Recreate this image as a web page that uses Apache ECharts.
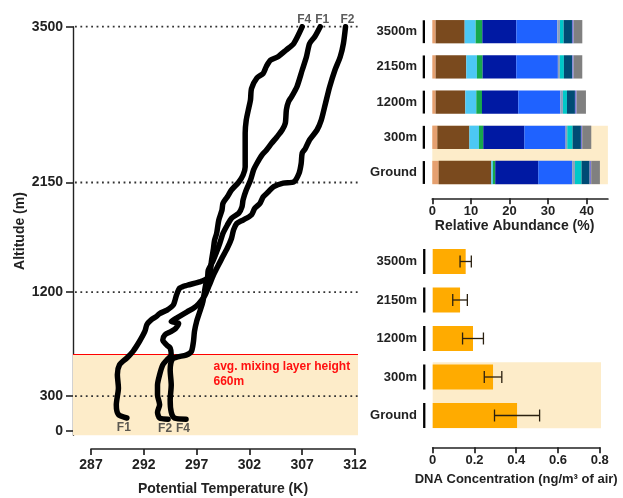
<!DOCTYPE html>
<html>
<head>
<meta charset="utf-8">
<script src="https://cdn.jsdelivr.net/npm/echarts@6/dist/echarts.min.js"></script>
<style>
  html, body { margin: 0; padding: 0; background: #fff; }
  #chart { width: 623px; height: 498px; }
</style>
</head>
<body>
<div id="chart"></div>
<script>
// ---------- Potential temperature profiles: [K, altitude m], from top to ground ----------
const profileF4 = [[307.0,3500],[306.2,3355],[305.5,3300],[304.7,3240],[304.0,3210],[303.6,3155],[303.3,3095],[302.7,3055],[302.2,2965],[302.1,2865],[301.9,2780],[301.7,2690],[301.6,2580],[301.6,2430],[301.6,2285],[301.4,2215],[301.0,2155],[300.3,2085],[299.9,2025],[299.5,1970],[299.4,1910],[299.1,1825],[298.9,1710],[298.7,1650],[298.6,1580],[298.4,1465],[298.3,1380],[298.0,1320],[297.8,1235],[297.6,1120],[297.3,1030],[297.0,945],[296.8,860],[296.7,770],[296.5,685],[296.0,655],[295.2,640],[294.7,620],[294.5,525],[294.6,395],[294.5,265],[294.6,160],[294.9,110],[296.0,100]];
const profileF1 = [[308.7,3500],[308.2,3415],[307.7,3355],[307.4,3240],[307.0,3125],[306.5,2980],[306.0,2895],[305.7,2850],[305.5,2780],[305.4,2665],[305.1,2605],[304.6,2545],[304.1,2490],[303.6,2430],[303.2,2390],[302.7,2315],[302.4,2260],[302.1,2170],[301.7,2085],[301.4,2000],[301.3,1940],[301.0,1885],[300.3,1840],[299.9,1780],[299.5,1710],[299.2,1625],[298.9,1550],[298.5,1460],[298.1,1390],[298.0,1320],[297.3,1290],[296.1,1260],[295.4,1235],[295.1,1175],[294.8,1090],[294.2,1045],[293.5,1015],[293.2,990],[292.7,960],[292.3,920],[292.1,860],[291.6,775],[291.0,690],[290.4,630],[289.7,570],[289.5,485],[289.6,370],[289.4,225],[289.6,140],[290.4,110]];
const profileF2 = [[311.1,3500],[310.9,3355],[310.6,3240],[310.1,3125],[309.6,2980],[309.2,2835],[308.8,2690],[308.4,2605],[307.7,2520],[307.3,2445],[307.0,2405],[306.9,2315],[306.7,2230],[306.2,2155],[305.2,2145],[304.3,2115],[303.8,2070],[303.3,2025],[303.0,1970],[302.5,1925],[302.2,1870],[301.4,1825],[300.8,1795],[300.5,1740],[300.3,1665],[299.9,1580],[299.4,1495],[298.9,1405],[298.6,1350],[298.2,1260],[297.8,1175],[297.2,1100],[296.7,1060],[296.1,1030],[295.1,975],[294.6,945],[295.3,930],[295.0,885],[294.6,860],[294.0,830],[293.8,785],[294.2,740],[294.5,715],[294.6,655],[294.2,615],[293.8,570],[293.5,485],[293.3,395],[293.3,310],[293.5,225],[293.3,160],[293.5,110],[294.3,100]];

const altitudeTicks = [0, 300, 1200, 2150, 3500];
const guideAltitudes = [300, 1200, 2150, 3500];
const temperatureTicks = [287, 292, 297, 302, 307, 312];
const mixingLayerHeight = 660;

// ---------- Sampling heights (bottom to top) ----------
const sites = ['Ground', '300m', '1200m', '2150m', '3500m'];

// Relative abundance (%) of each taxonomic group, in the order of `sites`
const groupA = [1.64, 1.30, 0.86, 0.86, 0.86];
const groupB = [13.64, 8.29, 7.69, 7.94, 7.52];
const groupC = [0.43, 2.50, 2.85, 2.76, 2.85];
const groupD = [0.60, 1.12, 1.47, 1.47, 1.73];
const groupE = [11.14, 10.62, 9.41, 8.72, 8.81];
const groupF = [8.81, 10.71, 10.88, 10.79, 10.62];
const groupG = [0.69, 0.43, 0.69, 0.52, 0.69];
const groupH = [1.73, 1.38, 1.04, 1.04, 0.95];
const groupI = [2.07, 2.16, 2.07, 2.16, 2.16];
const groupJ = [0.43, 0.35, 0.43, 0.35, 0.43];
const groupK = [2.25, 2.33, 2.42, 2.25, 2.25];
const abundanceTicks = [0, 10, 20, 30, 40];

// DNA concentration (ng/m³ of air) with error, in the order of `sites`
const dnaConcentration = [0.404, 0.289, 0.193, 0.131, 0.158];
const dnaError = [0.108, 0.042, 0.050, 0.035, 0.027];
const dnaTicks = [0, 0.2, 0.4, 0.6, 0.8];

// ---------- Styling ----------
const FONT = '"Liberation Sans", Arial, Helvetica, sans-serif';
const INK = '#222222';
const SHADE = '#fdecc9';
const groupColors = ['#e5a070', '#7a4a1e', '#4cc8f4', '#17a84c', '#0019a3', '#1f62ff',
                     '#8ca0be', '#00c8c8', '#004b74', '#7a7ad6', '#808080'];
const groups = [groupA, groupB, groupC, groupD, groupE, groupF, groupG, groupH, groupI, groupJ, groupK];

// axis extents of the profile panel (the visible temperature axis is drawn separately)
const tempMin = 285.3, tempMax = 312.28, altMin = -40, altMax = 3500;
const abundMin = -2.93, abundMax = 45.5;
const dnaMin = -0.056, dnaMax = 0.806;

const labelText = { fontFamily: FONT, fontWeight: 'bold', color: INK };
const axisLineStyle = { color: INK, width: 1.7 };
const plainNumber = v => String(v);

function displayAxis(gridIndex, min, max, ticks, name, nameGap, nameSize, labelSize, margin, tickLen, namePad) {
  return {
    type: 'value', gridIndex, min, max, position: 'bottom',
    axisLine: { show: true, lineStyle: axisLineStyle },
    axisTick: { show: true, length: tickLen, customValues: ticks, lineStyle: axisLineStyle },
    axisLabel: Object.assign({ customValues: ticks, margin, fontSize: labelSize, formatter: plainNumber }, labelText),
    splitLine: { show: false },
    name, nameLocation: 'middle', nameGap,
    nameTextStyle: Object.assign({ fontSize: nameSize, padding: namePad || 0 }, labelText)
  };
}

// vertical stubs drawn left of each category
function categoryStubs(xIndex, yIndex, zeroValue) {
  return {
    type: 'custom', xAxisIndex: xIndex, yAxisIndex: yIndex, z: 4,
    data: sites.map((s, i) => [zeroValue, i]),
    encode: { x: 0, y: 1 },
    renderItem(params, api) {
      const p = api.coord([api.value(0), api.value(1)]);
      const h = api.size([0, 1])[1] * 0.65;
      return { type: 'rect', shape: { x: p[0] - 9.6, y: p[1] - h / 2, width: 2.3, height: h },
               style: { fill: '#000' } };
    }
  };
}

// shaded band behind the two lowest categories
function lowSiteShade(xIndex, yIndex, x0, x1, padTop, padBottom) {
  return {
    type: 'custom', xAxisIndex: xIndex, yAxisIndex: yIndex, z: 1, silent: true,
    data: [[x0, 0]],
    encode: { x: 0, y: 1 },
    renderItem(params, api) {
      const band = api.size([0, 1])[1];
      const a = api.coord([x0, 1]);
      const b = api.coord([x1, 0]);
      return { type: 'rect',
               shape: { x: a[0], y: a[1] - band * padTop, width: b[0] - a[0],
                        height: (b[1] + band * padBottom) - (a[1] - band * padTop) },
               style: { fill: SHADE } };
    }
  };
}

const profiles = [['F4', profileF4], ['F1', profileF1], ['F2', profileF2]];

const series = [];

// mixing layer shading
series.push({
  type: 'custom', xAxisIndex: 0, yAxisIndex: 0, z: 1, silent: true,
  data: [[tempMin, mixingLayerHeight]],
  encode: { x: 0, y: 1 },
  renderItem(params, api) {
    const a = api.coord([tempMin, api.value(1)]);
    const b = api.coord([tempMax, altMin]);
    return { type: 'rect', shape: { x: a[0], y: a[1], width: b[0] - a[0], height: b[1] - a[1] },
             style: { fill: SHADE } };
  }
});

// dotted altitude guides
series.push({
  type: 'custom', xAxisIndex: 0, yAxisIndex: 0, z: 2, silent: true,
  data: guideAltitudes.map(v => [tempMin, v]),
  encode: { x: 0, y: 1 },
  renderItem(params, api) {
    const a = api.coord([tempMin, api.value(1)]);
    const b = api.coord([tempMax, api.value(1)]);
    return { type: 'line', shape: { x1: a[0] + 2, y1: a[1], x2: b[0], y2: b[1] },
             style: { stroke: '#333', lineWidth: 1.8, lineDash: [1.8, 3.6] } };
  }
});

// mixing layer height line and note
series.push({
  type: 'custom', xAxisIndex: 0, yAxisIndex: 0, z: 2, silent: true,
  data: [[tempMin, mixingLayerHeight]],
  encode: { x: 0, y: 1 },
  renderItem(params, api) {
    const a = api.coord([tempMin, api.value(1)]);
    const b = api.coord([tempMax, api.value(1)]);
    const t = api.coord([298.6, api.value(1)]);
    return { type: 'group', children: [
      { type: 'line', shape: { x1: a[0], y1: a[1], x2: b[0], y2: b[1] },
        style: { stroke: '#ff0000', lineWidth: 1.2 } },
      { type: 'text', x: t[0], y: t[1] + 5,
        style: { text: 'avg. mixing layer height\n' + mixingLayerHeight + 'm',
                 fill: '#ff1010', font: 'bold 12px ' + FONT, lineHeight: 14.5,
                 align: 'left', verticalAlign: 'top' } }
    ] };
  }
});

// temperature profiles
profiles.forEach(([name, data]) => {
  series.push({
    type: 'line', name, xAxisIndex: 0, yAxisIndex: 0, z: 5,
    data, showSymbol: false, smooth: 0.25,
    lineStyle: { color: '#000', width: 5.5, cap: 'round', join: 'round' }
  });
});

// profile names at the top and bottom ends
series.push({
  type: 'scatter', xAxisIndex: 0, yAxisIndex: 0, z: 6, symbolSize: 0, silent: true,
  data: profiles.flatMap(([name, data]) => [
    { name, value: data[0], label: { position: 'top', distance: 1, offset: [2, 0] } },
    { name, value: data[data.length - 1], label: { position: 'bottom', distance: 4, offset: [-3, 0] } }
  ]),
  label: { show: true, formatter: '{b}', fontSize: 12, fontFamily: FONT, fontWeight: 'bold', color: '#333' }
});

// relative abundance panel
series.push(lowSiteShade(2, 2, 0, abundMax, 0.33, 0.335));
groups.forEach((g, k) => {
  series.push({
    type: 'bar', name: 'group' + (k + 1), stack: 'abundance', xAxisIndex: 2, yAxisIndex: 2, z: 3,
    data: g, barWidth: 23.3, itemStyle: { color: groupColors[k] }
  });
});
series.push(categoryStubs(2, 2, 0));

// DNA concentration panel
series.push(lowSiteShade(4, 4, 0, dnaMax, 0.38, 0.33));
series.push({
  type: 'bar', name: 'DNA', xAxisIndex: 4, yAxisIndex: 4, z: 3,
  data: dnaConcentration, barWidth: 25, itemStyle: { color: '#ffab00' }
});
series.push({
  type: 'custom', xAxisIndex: 4, yAxisIndex: 4, z: 5, silent: true,
  data: sites.map((s, i) => [i, dnaConcentration[i] - dnaError[i], dnaConcentration[i] + dnaError[i]]),
  encode: { x: [1, 2], y: 0 },
  renderItem(params, api) {
    const y = api.value(0);
    const lo = api.coord([api.value(1), y]);
    const hi = api.coord([api.value(2), y]);
    const cap = 6, st = { stroke: '#2a2010', lineWidth: 1.3 };
    return { type: 'group', children: [
      { type: 'line', shape: { x1: lo[0], y1: lo[1], x2: hi[0], y2: hi[1] }, style: st },
      { type: 'line', shape: { x1: lo[0], y1: lo[1] - cap, x2: lo[0], y2: lo[1] + cap }, style: st },
      { type: 'line', shape: { x1: hi[0], y1: hi[1] - cap, x2: hi[0], y2: hi[1] + cap }, style: st }
    ] };
  }
});
series.push(categoryStubs(4, 4, 0));

const categoryAxis = (gridIndex) => ({
  type: 'category', gridIndex, data: sites,
  axisLine: { show: false }, axisTick: { show: false },
  axisLabel: Object.assign({ margin: 4, fontSize: 13 }, labelText)
});

const option = {
  animation: false,
  backgroundColor: '#ffffff',
  grid: [
    { left: 73, top: 26.7, width: 285, height: 408.6 },     // profiles
    { left: 91, top: 448, width: 264, height: 1 },          // temperature axis
    { left: 421, top: 14.1, width: 186.9, height: 176 },    // relative abundance
    { left: 432.3, top: 197.3, width: 175.6, height: 1 },   // abundance axis
    { left: 421, top: 242.25, width: 180, height: 192.5 },  // DNA concentration
    { left: 432.7, top: 446.3, width: 167, height: 1 }      // concentration axis
  ],
  xAxis: [
    { type: 'value', gridIndex: 0, min: tempMin, max: tempMax, show: false },
    displayAxis(1, temperatureTicks[0], temperatureTicks[temperatureTicks.length - 1], temperatureTicks,
                'Potential Temperature (K)', 33, 14, 14, 9, 6),
    { type: 'value', gridIndex: 2, min: abundMin, max: abundMax, show: false },
    displayAxis(3, 0, abundMax, abundanceTicks, 'Relative Abundance (%)', 21, 14, 13, 7, 6, [0, 11, 0, 0]),
    { type: 'value', gridIndex: 4, min: dnaMin, max: dnaMax, show: false },
    displayAxis(5, 0, 0.8, dnaTicks, 'DNA Concentration (ng/m³ of air)', 26, 13, 13, 7, 6)
  ],
  yAxis: [
    {
      type: 'value', gridIndex: 0, min: altMin, max: altMax,
      axisLine: { show: true, lineStyle: { color: INK, width: 1.4 } },
      axisTick: { show: true, length: 7, customValues: altitudeTicks, lineStyle: { color: INK, width: 1.6 } },
      axisLabel: Object.assign({ customValues: altitudeTicks, margin: 10, fontSize: 14, formatter: plainNumber }, labelText),
      splitLine: { show: false },
      name: 'Altitude (m)', nameLocation: 'middle', nameRotate: 90, nameGap: 46,
      nameTextStyle: Object.assign({ fontSize: 14 }, labelText)
    },
    { type: 'value', gridIndex: 1, show: false },
    categoryAxis(2),
    { type: 'value', gridIndex: 3, show: false },
    categoryAxis(4),
    { type: 'value', gridIndex: 5, show: false }
  ],
  series
};

const chart = echarts.init(document.getElementById('chart'), null, { renderer: 'canvas' });
chart.setOption(option);
</script>
</body>
</html>
